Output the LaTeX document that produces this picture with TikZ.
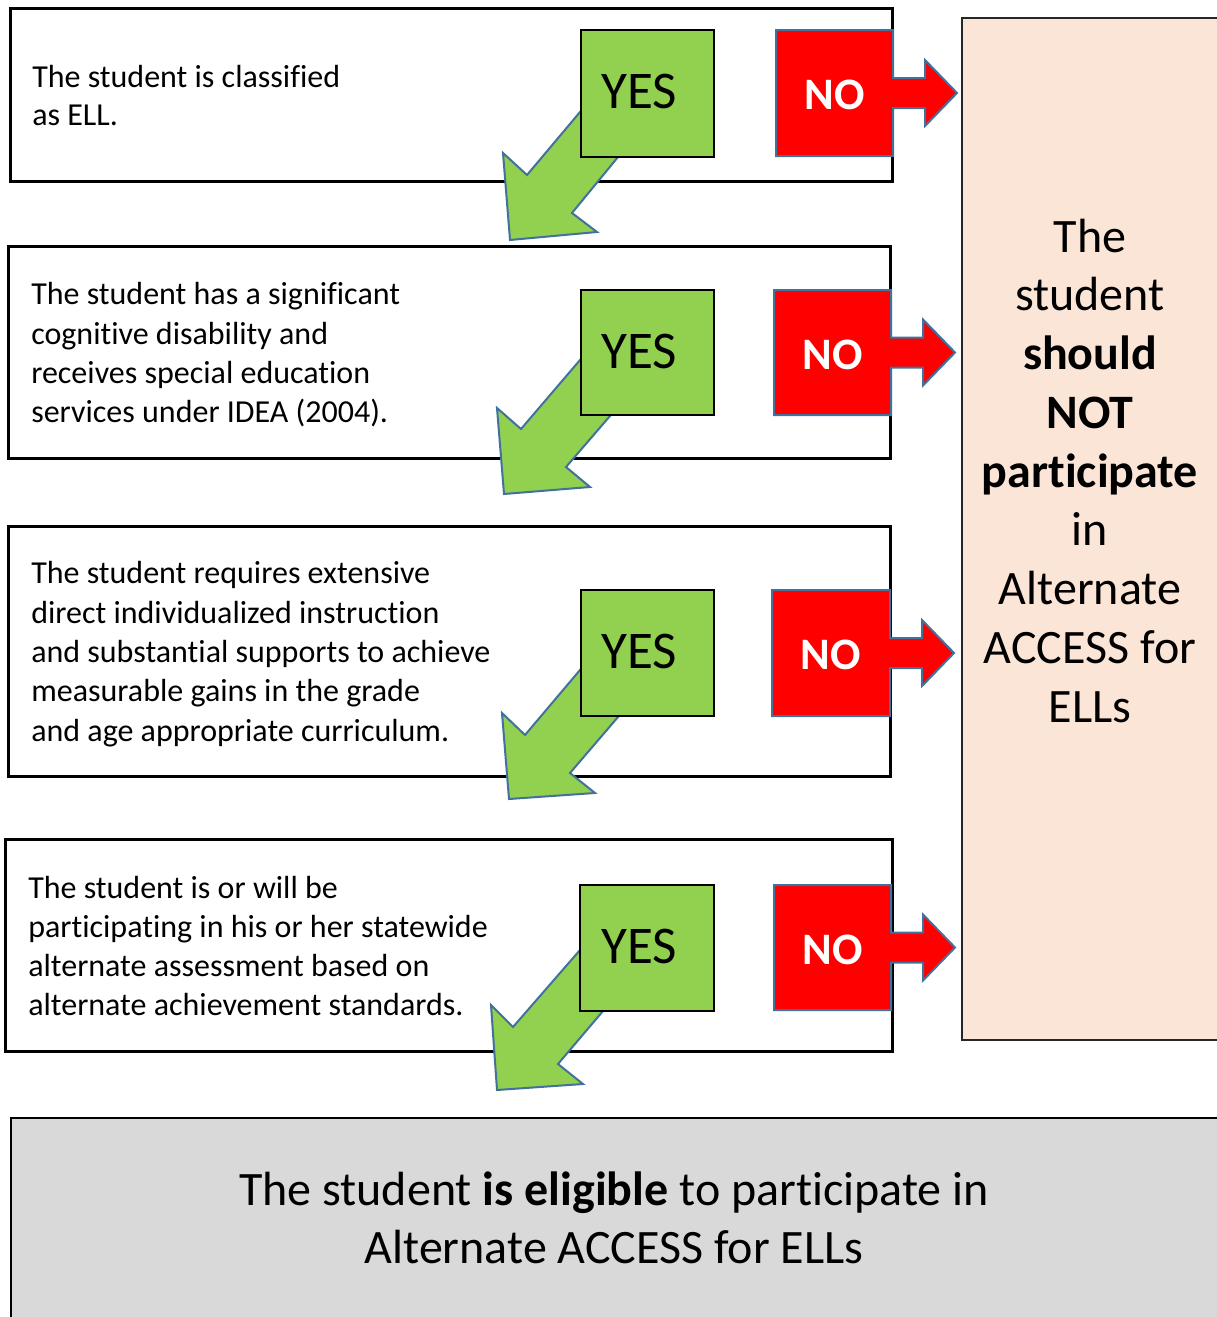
\documentclass[tikz,border=0pt]{standalone}
\usepackage{fontspec}
\setmainfont{Carlito}[Ligatures=NoCommon]
\usetikzlibrary{calc,fit}
\definecolor{yesgreen}{HTML}{92D050}
\definecolor{nored}{HTML}{FF0000}
\definecolor{outblue}{HTML}{41719C}
\definecolor{peach}{HTML}{FBE5D6}
\definecolor{panelgray}{HTML}{D9D9D9}
\tikzset{
  qbox/.style={draw=black, line width=2.25pt, fill=white, inner sep=0pt},
  bodytext/.style={anchor=base west, align=left, inner sep=0pt, font=\fontsize{24}{29.44}\selectfont},
  yesbox/.style={draw=black, line width=1.4pt, fill=yesgreen, inner sep=0pt},
  yestext/.style={anchor=base, inner sep=0pt, font=\fontsize{39.75}{48}\selectfont},
  notext/.style={anchor=base, inner sep=0pt, text=white, font=\fontsize{33.75}{40}\selectfont\bfseries},
  noshape/.style={draw=outblue, line width=1.5pt, fill=nored, line join=miter},
  greenarrow/.style={draw=outblue, line width=1.5pt, fill=yesgreen, line join=miter},
  sidebox/.style={draw=black!85, line width=1.5pt, fill=peach, inner sep=0pt},
  sidetext/.style={anchor=base, align=center, inner sep=0pt, font=\fontsize{36}{44.06}\selectfont},
  bottombox/.style={draw=black, line width=2pt, fill=panelgray, inner sep=0pt},
  bottomtext/.style={anchor=base, align=center, inner sep=0pt, font=\fontsize{36}{43.5}\selectfont}
}
% #1 name, #2 left, #3 top, #4 right, #5 bottom
\newcommand\NoArrow[5]{%
  \draw[noshape] (#2,#3) -- (#4,#3) -- ({#4},{(#3+#5)/2-15}) -- ({#4+32},{(#3+#5)/2-15})
    -- ({#4+32},{(#3+#5)/2-33}) -- ({#4+64},{(#3+#5)/2}) -- ({#4+32},{(#3+#5)/2+33})
    -- ({#4+32},{(#3+#5)/2+15}) -- ({#4},{(#3+#5)/2+15}) -- (#4,#5) -- (#2,#5) -- cycle;
  \node[notext] (#1) at ({(#2+#4)/2},{#3+79}) {NO};}
% enter-left, inner-left, outer-left, tip, outer-right, inner-right, enter-right
\newcommand\YesArrow[7]{%
  \draw[greenarrow] ($#2!1.5!#1$) -- #2 -- #3 -- #4 -- #5 -- #6 -- ($#6!1.5!#7$) -- cycle;}
\begin{document}
\begin{tikzpicture}[x=0.75pt,y=-0.75pt]
\useasboundingbox (0,0) rectangle (1217,1317);
\clip (0,0) rectangle (1217,1317);

% question boxes
\node[qbox, fit={(10,8) (892,181)}] (q1) {};
\node[qbox, fit={(8,246) (890,458)}] (q2) {};
\node[qbox, fit={(8,526) (890,776)}] (q3) {};
\node[qbox, fit={(5,839) (892,1051)}] (q4) {};

% (anchor = baseline of the last line)
\node[bodytext, font=\fontsize{24}{28.5}\selectfont] (t1) at (32,125) {The student is classified\\as ELL.};
\node[bodytext] (t2) at (31,422.75) {The student has a significant\\cognitive disability and\\receives special education\\services under IDEA (2004).};
\node[bodytext] (t3) at (31,741) {The student requires extensive\\direct individualized instruction\\and substantial supports to achieve\\measurable gains in the grade\\and age appropriate curriculum.};
\node[bodytext] (t4) at (28,1015.75) {The student is or will be\\participating in his or her statewide\\alternate assessment based on\\alternate achievement standards.};

% green YES arrows
\YesArrow{(580,112)}{(527,175)}{(503,153)}{(510,240)}{(597,232)}{(572,213)}{(618,157)}
\YesArrow{(580,360)}{(521,429)}{(497,408)}{(504,494)}{(590,487)}{(566,467)}{(610,416)}
\YesArrow{(580,670)}{(525,735)}{(502,713)}{(509,799)}{(595,793)}{(570,773)}{(618,717)}
\YesArrow{(580,950)}{(513,1027)}{(491,1005)}{(497,1090)}{(583,1084)}{(558,1064)}{(603,1011)}

% YES boxes
\node[yesbox, fit={(581,30) (714,157)}] (y1) {};
\node[yesbox, fit={(581,290) (714,415)}] (y2) {};
\node[yesbox, fit={(581,590) (714,716)}] (y3) {};
\node[yesbox, fit={(580,885) (714,1011)}] (y4) {};
\node[yestext] (yt1) at (639,108) {YES};
\node[yestext] (yt2) at (639,368) {YES};
\node[yestext] (yt3) at (639,668) {YES};
\node[yestext] (yt4) at (639,963) {YES};

% NO callout arrows
\NoArrow{n1}{776}{30}{893}{156}
\NoArrow{n2}{774}{290}{891}{415}
\NoArrow{n3}{772}{590}{890}{716}
\NoArrow{n4}{774}{885}{891}{1010}

% right outcome box
\node[sidebox, fit={(962,18) (1220,1040)}] (side) {};
\node[sidetext] (sidet) at (1090,722) {The\\student\\\textbf{should}\\\textbf{NOT}\\\textbf{participate}\\in\\Alternate\\ACCESS for\\ELLs};

% bottom outcome box
\node[bottombox, fit={(11,1118) (1220,1325)}] (bottom) {};
\node[bottomtext] (bottomt) at (614,1263) {The student \textbf{is eligible} to participate in\\Alternate ACCESS for ELLs};
\end{tikzpicture}
\end{document}
